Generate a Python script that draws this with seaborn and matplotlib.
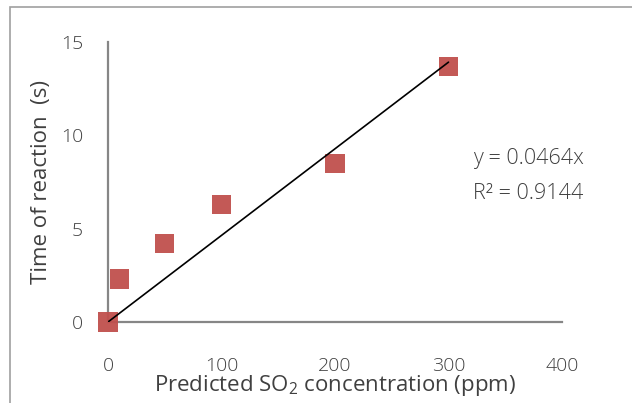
import matplotlib
matplotlib.use("Agg")
import matplotlib.pyplot as plt
import seaborn as sns
import pandas as pd
from matplotlib.patches import Rectangle

so2_ppm = [0, 10, 50, 100, 200, 300]
reaction_time = [0.0, 2.3, 4.2, 6.3, 8.5, 13.7]

# trendline forced through origin, as printed on the chart
slope = 0.0464
r_squared = 0.9144
trend_x = [0, 300]

x_ticks = [0, 100, 200, 300, 400]
y_ticks = [0, 5, 10, 15]

TEXT = "#404040"
AXIS = "#868686"
MARKER = "#C0504D"

sns.set_theme(style="white")
plt.rcParams["font.family"] = ["Open Sans", "DejaVu Sans"]
plt.rcParams["font.weight"] = 300
plt.rcParams["mathtext.default"] = "regular"

df = pd.DataFrame({"x": so2_ppm, "y": reaction_time})
trend = pd.DataFrame({"x": trend_x, "y": [slope * v for v in trend_x]})

fig = plt.figure(figsize=(6.32, 4.03), dpi=100)
fig.patches.append(Rectangle((10 / 632, -0.5), 2, 1.5 - 7 / 403,
                             transform=fig.transFigure, fill=False,
                             edgecolor="#a0a0a0", linewidth=1.2))
ax = fig.add_axes([108 / 632, 1 - 322 / 403, 454 / 632, 280 / 403])

sns.scatterplot(data=df, x="x", y="y", ax=ax, marker="s", s=190,
                color=MARKER, edgecolor="none", alpha=0.95, zorder=3,
                clip_on=False)
sns.lineplot(data=trend, x="x", y="y", ax=ax, color="black",
             linewidth=1.2, zorder=4)

ax.set_xlim(0, 400)
ax.set_ylim(0, 15)
ax.set_xticks(x_ticks)
ax.set_yticks(y_ticks)
ax.tick_params(axis="both", length=0, labelsize=14, colors=TEXT)
ax.tick_params(axis="x", pad=25)
ax.tick_params(axis="y", pad=18)

for side in ["top", "right"]:
    ax.spines[side].set_visible(False)
for side in ["left", "bottom"]:
    ax.spines[side].set_color(AXIS)
    ax.spines[side].set_linewidth(1.6)

ax.set_xlabel("Predicted SO$_2$ concentration (ppm)", fontsize=16,
              color=TEXT, labelpad=-1)
ax.set_ylabel("Time of reaction  (s)", fontsize=16, color=TEXT,
              labelpad=6)

ax.text(0.805, 0.585, f"y = {slope}x", transform=ax.transAxes,
        fontsize=15.5, color=TEXT, va="center", ha="left")
ax.text(0.805, 0.46, f"R² = {r_squared}", transform=ax.transAxes,
        fontsize=15.5, color=TEXT, va="center", ha="left")

fig.savefig("out.png", dpi=100)
